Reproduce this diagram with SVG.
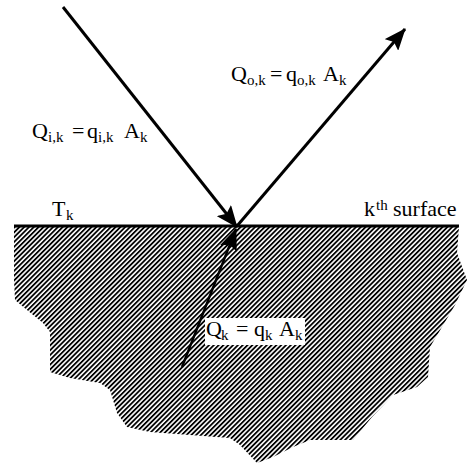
<svg xmlns="http://www.w3.org/2000/svg" width="469" height="465" viewBox="0 0 469 465">
<style>
  text, tspan { font-family: "Liberation Serif", "DejaVu Serif", "Times New Roman", serif; fill: #000; }
  .m { font-size: 22px; }
  .s { font-size: 15px; }
  .conn { stroke: #000; fill: none; }
</style>
<defs>
  <pattern id="hatch" patternUnits="userSpaceOnUse" width="3.4" height="10" patternTransform="rotate(45)">
    <rect x="0" y="0" width="1.8" height="10" fill="#000"/>
  </pattern>
  <marker id="ah" viewBox="0 0 22 18" refX="21" refY="9" markerWidth="22" markerHeight="18" markerUnits="userSpaceOnUse" orient="auto">
    <path d="M0,0 L22,9 L0,18 L4,9 Z" fill="#000"/>
  </marker>
</defs>
<rect width="469" height="465" fill="#fff"/>
<g id="body">
  <polygon fill="url(#hatch)" points="14,227 459,227 457,253 467,280 455,305 442,327 430,347 428,377 417,387 393,395 372,417 353,440 310,440 293,447 273,457 257,463 240,445 230,438 150,432 127,427 117,413 110,390 100,383 70,378 50,372 50,332 43,323 27,310 15,300 14,280"/>
</g>
<g id="surface">
  <line x1="14" y1="226" x2="459" y2="226" stroke="#000" stroke-width="3"/>
</g>
<g id="connectors">
  <line class="conn" x1="63" y1="7" x2="237" y2="227" stroke-width="3" marker-end="url(#ah)"/>
  <line class="conn" x1="237" y1="226" x2="405" y2="29" stroke-width="3" marker-end="url(#ah)"/>
  <line class="conn" x1="182" y1="367" x2="236" y2="229" stroke-width="2.4" marker-end="url(#ah)"/>
</g>
<g id="label-qi">
  <text class="m" font-family="Liberation Serif, serif" y="138"><tspan x="32">Q</tspan><tspan class="s" x="48" y="142">i,k</tspan><tspan x="72" y="138">=</tspan><tspan x="87">q</tspan><tspan class="s" x="98" y="142">i,k</tspan><tspan x="124" y="138">A</tspan><tspan class="s" x="140" y="142">k</tspan></text>
</g>
<g id="label-qo">
  <text class="m" font-family="Liberation Serif, serif" y="81"><tspan x="231">Q</tspan><tspan class="s" x="247" y="85">o,k</tspan><tspan x="270" y="81">=</tspan><tspan x="286">q</tspan><tspan class="s" x="297" y="85">o,k</tspan><tspan x="323" y="81">A</tspan><tspan class="s" x="339" y="85">k</tspan></text>
</g>
<g id="label-qk">
  <rect x="205" y="318" width="100" height="27" fill="#fff"/>
  <text class="m" font-family="Liberation Serif, serif" y="336"><tspan x="206">Q</tspan><tspan class="s" x="221" y="340">k</tspan><tspan x="236" y="336">=</tspan><tspan x="254">q</tspan><tspan class="s" x="265" y="340">k</tspan><tspan x="279" y="336">A</tspan><tspan class="s" x="295" y="340">k</tspan></text>
</g>
<g id="label-tk">
  <text class="m" font-family="Liberation Serif, serif" y="216"><tspan x="52">T</tspan><tspan class="s" x="66" y="220">k</tspan></text>
</g>
<g id="label-surface">
  <text class="m" font-family="Liberation Serif, serif" y="216"><tspan x="364">k</tspan><tspan class="s" x="376" y="210">th</tspan><tspan x="393" y="216">surface</tspan></text>
</g>
</svg>
